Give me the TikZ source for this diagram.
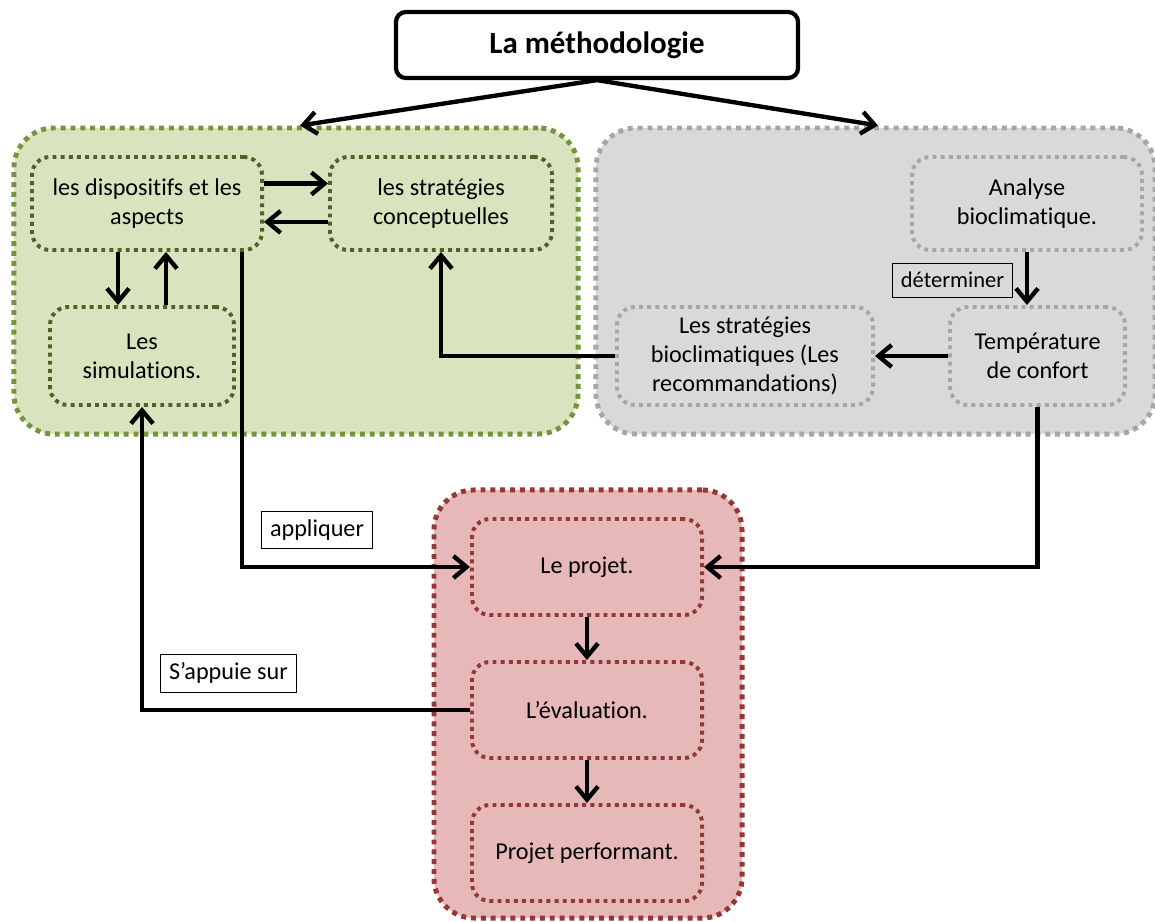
\documentclass[tikz,border=0pt]{standalone}
\usepackage{fontspec}
\setmainfont{Carlito}[Ligatures={NoCommon}]
\usepackage{tikz}
\usetikzlibrary{positioning, arrows.meta, fit, shapes}

\definecolor{vertfond}{HTML}{D7E4BD}
\definecolor{vertbord}{HTML}{77933C}
\definecolor{vertfonce}{HTML}{4F6228}
\definecolor{grisfond}{HTML}{D9D9D9}
\definecolor{grisbord}{HTML}{A6A6A6}
\definecolor{rougefond}{HTML}{E6B9B8}
\definecolor{rougebord}{HTML}{953735}

\begin{document}
\begin{tikzpicture}[
            x=0.025cm, y=-0.025cm,
            font=\fontsize{17.2}{20.5}\selectfont,
            groupe/.style={rectangle, rounded corners=1cm, line width=3.5pt, dash pattern=on 3.5pt off 3.5pt},
            bloc/.style={rectangle, rounded corners=0.45cm, line width=2.8pt, dash pattern=on 2.8pt off 3pt, align=center},
            etiquette/.style={rectangle, draw, line width=0.6pt, inner sep=6pt},
            fleche/.style={-{Straight Barb[length=0.33cm, width=0.55cm]}, line width=3.1pt},
        ]
        \useasboundingbox (0,0) rectangle (1155,921);

        % les trois groupes
        \node[groupe, draw=vertbord, fill=vertfond, minimum width=14.1cm, minimum height=7.65cm] (vert) at (296,281) {};
        \node[groupe, draw=grisbord, fill=grisfond, minimum width=13.975cm, minimum height=7.65cm] (gris) at (875.5,281) {};
        \node[groupe, draw=rougebord, fill=rougefond, minimum width=7.7cm, minimum height=10.7cm] (rouge) at (588,704) {};

        % titre
        \node[rectangle, draw, rounded corners=0.25cm, line width=3pt, fill=white, minimum width=10.05cm, minimum height=1.65cm, font=\fontsize{22}{26}\selectfont\bfseries] (titre) at (597,45) {La méthodologie};

        % groupe vert
        \node[bloc, draw=vertfonce, minimum width=5.75cm, minimum height=2.325cm] (dispositifs) at (147,203.5) {les dispositifs et les\\aspects};
        \node[bloc, draw=vertfonce, minimum width=5.55cm, minimum height=2.325cm] (conceptuelles) at (441,203.5) {les stratégies\\conceptuelles};
        \node[bloc, draw=vertfonce, minimum width=4.6cm, minimum height=2.45cm] (simulations) at (142,356) {Les\\simulations.};

        % groupe gris
        \node[bloc, draw=grisbord, minimum width=5.75cm, minimum height=2.325cm] (analyse) at (1027,203.5) {Analyse\\bioclimatique.};
        \node[bloc, draw=grisbord, minimum width=4.375cm, minimum height=2.45cm] (confort) at (1037.5,356) {Température\\de confort};
        \node[bloc, draw=grisbord, minimum width=6.4cm, minimum height=2.45cm] (bioclim) at (745,356) {Les stratégies\\bioclimatiques (Les\\recommandations)};

        % groupe rouge
        \node[bloc, draw=rougebord, minimum width=5.75cm, minimum height=2.4cm] (projet) at (587,567) {Le projet.};
        \node[bloc, draw=rougebord, minimum width=5.75cm, minimum height=2.4cm] (evaluation) at (587,710) {L’évaluation.};
        \node[bloc, draw=rougebord, minimum width=5.75cm, minimum height=2.4cm] (performant) at (587,853) {Projet performant.};

        % etiquettes
        \node[etiquette, minimum width=2.975cm, minimum height=0.85cm, font=\fontsize{16}{19}\selectfont] (determiner) at (952.5,280) {déterminer};
        \node[etiquette] (appliquer) at (317,530) {appliquer};
        \node[etiquette] (appuie) at (228.5,673) {S’appuie sur};

        % fleches
        \draw[fleche] (titre.south) -- ([xshift=0.1cm]vert.north);
        \draw[fleche] (titre.south) -- ([xshift=0.0625cm]gris.north);

        \draw[fleche] ([yshift=0.5cm]dispositifs.east) -- ([yshift=0.5cm]conceptuelles.west);
        \draw[fleche] ([yshift=-0.46cm]conceptuelles.west) -- ([yshift=-0.46cm]dispositifs.east);
        \draw[fleche] ([xshift=-0.725cm]dispositifs.south) -- ([xshift=-0.725cm]dispositifs.south |- simulations.north);
        \draw[fleche] ([xshift=0.475cm]dispositifs.south |- simulations.north) -- ([xshift=0.475cm]dispositifs.south);

        \draw[fleche] (analyse.south) -- (analyse.south |- confort.north);
        \draw[fleche] (confort.west) -- (bioclim.east);
        \draw[fleche] (bioclim.west) -| (conceptuelles.south);

        \draw[fleche] ([xshift=2.375cm]dispositifs.south) |- (projet.west);
        \draw[fleche] (confort.south) |- (projet.east);
        \draw[fleche] (evaluation.west) -| (simulations.south);

        \draw[fleche] (projet.south) -- (evaluation.north);
        \draw[fleche] (evaluation.south) -- (performant.north);

    \end{tikzpicture}
\end{document}
